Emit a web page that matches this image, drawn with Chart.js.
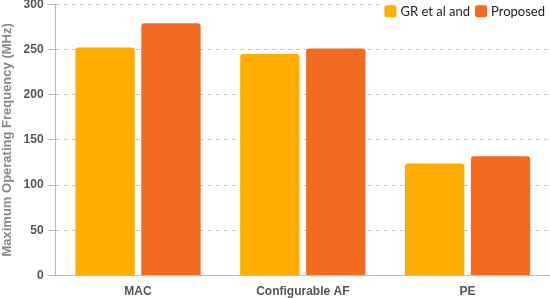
<!DOCTYPE html>
<html>
<head>
<meta charset="utf-8">
<script src="https://cdn.jsdelivr.net/npm/chart.js@4"></script>
<style>
  html, body { margin: 0; padding: 0; background: #fff; overflow: hidden; }
  #wrap { width: 550px; height: 315px; margin-top: -7px; }
</style>
</head>
<body>
<div id="wrap"><canvas id="chart"></canvas></div>
<script>
const categories = ['MAC', 'Configurable AF', 'PE'];
const series_names = ['GR et al and', 'Proposed'];
const gr_values = [252, 245, 124];
const proposed_values = [279, 251, 132];
const color_lst = ['#FFAE00', '#F26B21'];

// legend drawn inside the plot, top right corner
const cornerLegend = {
    id: 'cornerLegend',
    afterDraw(chart) {
        const c = chart.ctx;
        const area = chart.chartArea;
        c.save();
        c.font = '13px Lato';
        c.textBaseline = 'middle';
        let x = area.right - 5;
        const y = area.top + 7;
        const sets = chart.data.datasets.slice().reverse();
        sets.forEach(ds => {
            const w = c.measureText(ds.label).width;
            x -= w;
            c.fillStyle = '#fff';
            c.fillRect(x - 20, y - 8, w + 24, 17);
            c.fillStyle = '#222';
            c.textAlign = 'left';
            c.fillText(ds.label, x, y + 1);
            x -= 16;
            c.fillStyle = ds.backgroundColor;
            c.beginPath();
            c.roundRect(x, y - 6, 12, 12, 2);
            c.fill();
            x -= 5;
        });
        c.restore();
    }
};

const ctx = document.querySelector('#chart').getContext('2d');

new Chart(ctx, {
    type: 'bar',
    data: {
        labels: categories,
        datasets: [
            { label: series_names[0], data: gr_values, backgroundColor: color_lst[0], borderRadius: { topLeft: 3, topRight: 3 }, borderSkipped: 'bottom' },
            { label: series_names[1], data: proposed_values, backgroundColor: color_lst[1], borderRadius: { topLeft: 3, topRight: 3 }, borderSkipped: 'bottom' }
        ]
    },
    plugins: [cornerLegend],
    options: {
        responsive: true,
        maintainAspectRatio: false,
        animation: false,
        layout: { padding: { top: 0, right: 0, left: 0, bottom: 0 } },
        plugins: {
            legend: { display: false },
            tooltip: { enabled: false }
        },
        scales: {
            x: {
                grid: { display: false, drawTicks: false },
                border: { color: '#bbb' },
                ticks: { color: '#555', font: { family: 'Liberation Sans', size: 12, weight: 'bold' }, padding: 9 }
            },
            y: {
                min: 0,
                max: 300,
                ticks: { stepSize: 50, color: '#555', font: { family: 'Liberation Sans', size: 12, weight: 'bold' }, padding: 4 },
                grid: { color: '#ccc', tickLength: 8, tickColor: '#bbb' },
                border: { dash: [4, 4], color: '#bbb' },
                title: {
                    display: true,
                    text: 'Maximum Operating Frequency (MHz)',
                    color: '#888',
                    font: { family: 'Liberation Sans', size: 13, weight: 'bold' },
                    padding: { top: 0, bottom: 4 }
                }
            }
        }
    }
});
</script>
</body>
</html>
